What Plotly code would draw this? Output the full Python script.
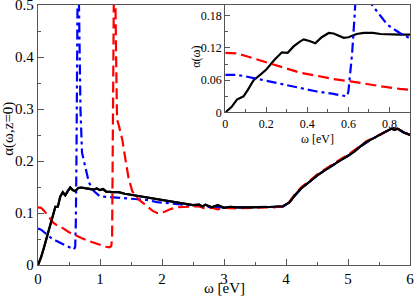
import plotly.graph_objects as go

# ---------------- main panel data ----------------
black_w = [0, 0.05, 0.1, 0.15, 0.2, 0.25, 0.28, 0.32, 0.36, 0.4, 0.44, 0.48, 0.52, 0.56, 0.6,
           0.65, 0.7, 0.8, 0.9, 0.95, 1.0, 1.05, 1.1, 1.2, 1.3, 1.4, 1.5, 1.6, 1.7, 1.8, 1.9,
           2.0, 2.1, 2.2, 2.3, 2.4, 2.5, 2.6, 2.65, 2.7, 2.8, 2.9, 3.0, 3.1, 3.2, 3.4, 3.6,
           3.8, 3.95, 4.05, 4.15, 4.25, 4.4, 4.5, 4.6, 4.75, 4.9, 5.0, 5.1, 5.2, 5.3, 5.4,
           5.5, 5.6, 5.7, 5.75, 5.8, 5.9, 6.0]
black_a = [0, 0.015, 0.035, 0.055, 0.075, 0.1, 0.112, 0.112, 0.132, 0.14, 0.134, 0.142, 0.149,
           0.144, 0.142, 0.148, 0.149, 0.147, 0.145, 0.147, 0.144, 0.146, 0.141, 0.14, 0.14,
           0.137, 0.135, 0.133, 0.13, 0.128, 0.126, 0.124, 0.122, 0.12, 0.118, 0.117, 0.115,
           0.116, 0.112, 0.116, 0.111, 0.115, 0.11, 0.112, 0.111, 0.111, 0.111, 0.112, 0.113,
           0.12, 0.135, 0.148, 0.162, 0.172, 0.18, 0.192, 0.203, 0.21, 0.218, 0.228, 0.237,
           0.243, 0.25, 0.256, 0.262, 0.26, 0.262, 0.255, 0.25]

red_w = [0, 0.05, 0.1, 0.15, 0.2, 0.25, 0.3, 0.4, 0.5, 0.6, 0.7, 0.8, 0.9, 1.0, 1.1, 1.15,
         1.18, 1.195, 1.2, 1.21, 1.225, 1.245, 1.26, 1.275, 1.3, 1.36, 1.41, 1.46, 1.52, 1.62,
         1.76, 1.85, 1.92, 1.97, 2.05, 2.15, 2.25, 2.4, 2.6, 2.7, 2.8, 2.9, 3.0, 3.2, 3.5,
         3.8, 3.95, 4.05, 4.15, 4.25, 4.4, 4.5, 4.6, 4.75, 4.9, 5.0, 5.1, 5.2, 5.3, 5.4, 5.5,
         5.6, 5.7, 5.8, 5.9, 6.0]
red_a = [0.111, 0.11, 0.104, 0.097, 0.088, 0.081, 0.077, 0.071, 0.063, 0.057, 0.052, 0.047,
         0.043, 0.038, 0.035, 0.034, 0.036, 0.05, 0.1, 0.3, 0.55, 0.55, 0.4, 0.28, 0.27,
         0.241, 0.203, 0.168, 0.142, 0.126, 0.113, 0.104, 0.1, 0.1, 0.103, 0.108, 0.111,
         0.112, 0.113, 0.108, 0.11, 0.107, 0.11, 0.109, 0.11, 0.111, 0.113, 0.121, 0.137,
         0.15, 0.164, 0.174, 0.182, 0.194, 0.205, 0.212, 0.22, 0.229, 0.238, 0.244, 0.251,
         0.256, 0.262, 0.262, 0.256, 0.25]

blue_w = [0, 0.05, 0.1, 0.15, 0.2, 0.3, 0.4, 0.5, 0.58, 0.6, 0.61, 0.62, 0.63, 0.64, 0.655,
          0.685, 0.71, 0.765, 0.82, 0.9, 1.0, 1.22, 1.44, 1.76, 1.92, 2.1, 2.3, 2.5, 2.7,
          3.0, 3.5, 3.95, 4.05, 4.15, 4.25, 4.4, 4.5, 4.6, 4.75, 4.9, 5.0, 5.2, 5.4, 5.6,
          5.7, 5.8, 5.9, 6.0]
blue_a = [0.07, 0.068, 0.063, 0.058, 0.053, 0.046, 0.04, 0.035, 0.03, 0.035, 0.08, 0.2, 0.4,
          0.55, 0.55, 0.3, 0.216, 0.184, 0.159, 0.142, 0.132, 0.13, 0.128, 0.125, 0.121,
          0.119, 0.116, 0.114, 0.112, 0.111, 0.111, 0.112, 0.12, 0.135, 0.148, 0.162, 0.172,
          0.18, 0.192, 0.203, 0.21, 0.228, 0.243, 0.256, 0.262, 0.262, 0.255, 0.25]

main_xticks = [0, 1, 2, 3, 4, 5, 6]
main_yticks = [0, 0.1, 0.2, 0.3, 0.4, 0.5]

# ---------------- inset data ----------------
in_black_w = [0, 0.03, 0.057, 0.089, 0.11, 0.138, 0.17, 0.2, 0.24, 0.276, 0.304, 0.333, 0.36,
              0.382, 0.41, 0.439, 0.47, 0.504, 0.528, 0.555, 0.577, 0.6, 0.64, 0.675, 0.72,
              0.756, 0.8, 0.85, 0.9]
in_black_a = [0, 0.01, 0.024, 0.03, 0.042, 0.06, 0.07, 0.08, 0.098, 0.112, 0.111, 0.123,
              0.131, 0.136, 0.133, 0.129, 0.14, 0.148, 0.147, 0.142, 0.139, 0.14, 0.146,
              0.148, 0.148, 0.146, 0.145, 0.145, 0.145]
in_red_w = [0, 0.057, 0.1, 0.2, 0.3, 0.366, 0.45, 0.528, 0.61, 0.7, 0.77, 0.85, 0.9]
in_red_a = [0.111, 0.11, 0.105, 0.093, 0.081, 0.074, 0.068, 0.062, 0.058, 0.052, 0.048, 0.044,
            0.042]
in_blue_w = [0, 0.05, 0.089, 0.138, 0.2, 0.285, 0.36, 0.447, 0.52, 0.593, 0.6, 0.61, 0.618,
             0.63, 0.64, 0.7, 0.715, 0.79, 0.85, 0.9]
in_blue_a = [0.07, 0.07, 0.068, 0.064, 0.059, 0.0515, 0.046, 0.039, 0.035, 0.03, 0.039,
             0.075, 0.11, 0.179, 0.25, 0.25, 0.2, 0.163, 0.148, 0.138]

in_xticks = [0, 0.2, 0.4, 0.6, 0.8]
in_yticks = [0, 0.06, 0.12, 0.18]
in_yticklabels = ["0", "0.06", "0.12", "0.18"]

BLACK = "black"
RED = "#ff0000"
BLUE = "#0000ff"
RED_DASH = "11px,5px"
BLUE_DASH = "10px,4px,3px,4px"
LW = 2.2
FONT = "'Liberation Serif', 'Times New Roman', Times, serif"
AX = "#555555"

fig = go.Figure()
fig.add_trace(go.Scatter(x=black_w, y=black_a, mode="lines",
                         line=dict(color=BLACK, width=LW), xaxis="x", yaxis="y"))
fig.add_trace(go.Scatter(x=blue_w, y=blue_a, mode="lines",
                         line=dict(color=BLUE, width=LW, dash=BLUE_DASH), xaxis="x", yaxis="y"))
fig.add_trace(go.Scatter(x=red_w, y=red_a, mode="lines",
                         line=dict(color=RED, width=LW, dash=RED_DASH), xaxis="x", yaxis="y"))
fig.add_trace(go.Scatter(x=black_w, y=black_a, mode="lines",
                         line=dict(color=BLACK, width=LW), xaxis="x", yaxis="y"))

fig.add_trace(go.Scatter(x=in_black_w, y=in_black_a, mode="lines",
                         line=dict(color=BLACK, width=LW), xaxis="x2", yaxis="y2"))
fig.add_trace(go.Scatter(x=in_red_w, y=in_red_a, mode="lines",
                         line=dict(color=RED, width=LW, dash=RED_DASH), xaxis="x2", yaxis="y2"))
fig.add_trace(go.Scatter(x=in_blue_w, y=in_blue_a, mode="lines",
                         line=dict(color=BLUE, width=LW, dash=BLUE_DASH), xaxis="x2", yaxis="y2"))

common = dict(showgrid=False, zeroline=False, showline=True, linecolor=AX, linewidth=1.3,
              mirror=True, ticks="inside", tickcolor=AX, tickwidth=1, color="black",
              automargin=False, tickmode="array", ticklabeloverflow="allow")

fig.update_layout(
    width=415, height=296,
    margin=dict(l=37.5, r=5, t=5, b=30.5, autoexpand=False),
    paper_bgcolor="white", plot_bgcolor="white",
    showlegend=False,
    font=dict(family=FONT, color="black"),
    xaxis=dict(range=[0, 6], tickvals=main_xticks, ticklen=6,
               minor=dict(dtick=0.5, tick0=0, ticklen=3, ticks="inside", tickcolor=AX),
               tickfont=dict(size=15), domain=[0, 1], anchor="y", **common),
    yaxis=dict(range=[0, 0.5], tickvals=main_yticks, ticklen=6,
               minor=dict(dtick=0.05, tick0=0, ticklen=3, ticks="inside", tickcolor=AX),
               tickfont=dict(size=15), domain=[0, 1], anchor="x", **common),
    xaxis2=dict(range=[0, 0.9], tickvals=in_xticks, ticklen=5,
                minor=dict(dtick=0.1, tick0=0, ticklen=3, ticks="inside", tickcolor=AX),
                tickfont=dict(size=12), domain=[0.5034, 1.0], anchor="y2", **common),
    yaxis2=dict(range=[0, 0.2], tickvals=in_yticks, ticktext=in_yticklabels, ticklen=5,
                minor=dict(dtick=0.03, tick0=0, ticklen=3, ticks="inside", tickcolor=AX),
                tickfont=dict(size=12), domain=[0.5866, 1.0], anchor="x2", **common),
    annotations=[
        dict(text="ω [eV]", xref="paper", yref="paper", x=0.5, y=-0.09,
             xanchor="center", yanchor="middle", showarrow=False, font=dict(size=15)),
        dict(text="α(ω,z=0)", xref="paper", yref="paper", x=-0.08, y=0.525,
             xanchor="center", yanchor="middle", textangle=-90, showarrow=False,
             font=dict(size=15)),
        dict(text="ω [eV]", xref="paper", yref="paper", x=0.7517, y=0.483,
             xanchor="center", yanchor="middle", showarrow=False, font=dict(size=12)),
        dict(text="α(ω)", xref="paper", yref="paper", x=0.424, y=0.80,
             xanchor="center", yanchor="middle", textangle=-90, showarrow=False,
             font=dict(size=12)),
    ],
)

fig.write_html("out.html", config={"displayModeBar": False},
               post_script="document.body.style.margin='0';document.body.style.padding='0';")
